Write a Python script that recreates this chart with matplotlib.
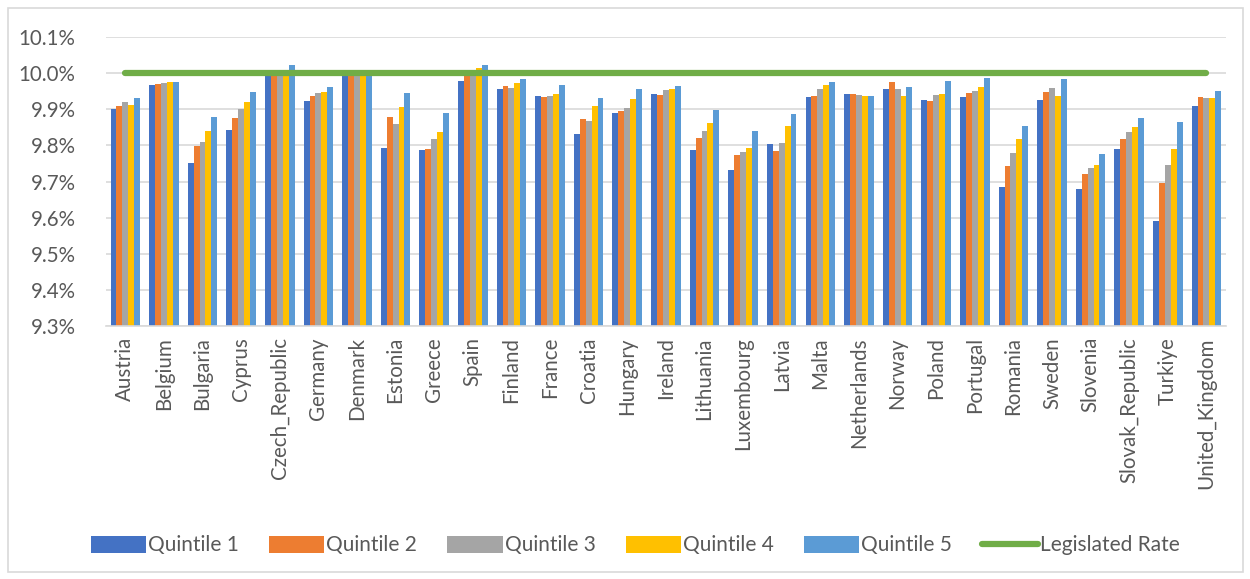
import numpy as np
import matplotlib.pyplot as plt
from matplotlib.patches import Rectangle
from matplotlib.ticker import FuncFormatter

plt.rcParams['font.family'] = ['Lato', 'DejaVu Sans']

countries = ['Austria', 'Belgium', 'Bulgaria', 'Cyprus', 'Czech_Republic', 'Germany',
             'Denmark', 'Estonia', 'Greece', 'Spain', 'Finland', 'France', 'Croatia',
             'Hungary', 'Ireland', 'Lithuania', 'Luxembourg', 'Latvia', 'Malta',
             'Netherlands', 'Norway', 'Poland', 'Portugal', 'Romania', 'Sweden',
             'Slovenia', 'Slovak_Republic', 'Turkiye', 'United_Kingdom']

# effective rates (%) by income quintile
q1 = [9.901, 9.966, 9.751, 9.843, 9.995, 9.924, 9.998, 9.793, 9.786, 9.977,
      9.956, 9.937, 9.832, 9.889, 9.943, 9.788, 9.733, 9.805, 9.934, 9.943,
      9.956, 9.925, 9.934, 9.684, 9.927, 9.679, 9.791, 9.591, 9.910]
q2 = [9.910, 9.971, 9.797, 9.876, 9.998, 9.937, 9.998, 9.879, 9.791, 9.995,
      9.965, 9.935, 9.873, 9.896, 9.940, 9.821, 9.773, 9.785, 9.938, 9.941,
      9.976, 9.924, 9.944, 9.742, 9.947, 9.720, 9.818, 9.696, 9.934]
q3 = [9.921, 9.973, 9.810, 9.901, 10.000, 9.946, 9.999, 9.860, 9.817, 10.000,
      9.960, 9.937, 9.868, 9.904, 9.953, 9.841, 9.781, 9.807, 9.957, 9.940,
      9.956, 9.940, 9.951, 9.780, 9.959, 9.738, 9.836, 9.745, 9.932]
q4 = [9.913, 9.975, 9.840, 9.921, 10.010, 9.949, 9.998, 9.906, 9.836, 10.014,
      9.972, 9.942, 9.910, 9.928, 9.957, 9.863, 9.794, 9.853, 9.967, 9.936,
      9.936, 9.943, 9.962, 9.818, 9.937, 9.745, 9.850, 9.789, 9.930]
q5 = [9.932, 9.975, 9.879, 9.947, 10.022, 9.962, 9.999, 9.945, 9.890, 10.024,
      9.984, 9.967, 9.931, 9.956, 9.965, 9.899, 9.841, 9.888, 9.976, 9.937,
      9.962, 9.979, 9.988, 9.854, 9.985, 9.776, 9.877, 9.865, 9.950]
legislated = [10.0] * len(countries)

series = [q1, q2, q3, q4, q5]
labels = ['Quintile 1', 'Quintile 2', 'Quintile 3', 'Quintile 4', 'Quintile 5']
colors = ['#4472C4', '#ED7D31', '#A5A5A5', '#FFC000', '#5B9BD5']

fig = plt.figure(figsize=(12.5, 5.79), dpi=100)
ax = fig.add_axes([0.0848, 0.437, 0.8958, 0.499])

x = np.arange(len(countries))
base = 9.3
w = 0.153
handles = []
for i, (vals, lab, col) in enumerate(zip(series, labels, colors)):
    v = np.array(vals)
    b = ax.bar(x + (i - 2) * w, v - base, w, bottom=base, color=col, label=lab, zorder=2)
    handles.append(b)

line, = ax.plot(x, legislated, color='#70AD47', lw=4.5, solid_capstyle='round',
                label='Legislated Rate', zorder=3)
handles.append(line)

ax.set_xlim(-0.5, len(countries) - 0.5)
ax.set_ylim(9.3, 10.1)
ax.set_yticks(np.arange(9.3, 10.11, 0.1))
ax.yaxis.set_major_formatter(FuncFormatter(lambda v, p: f'{v:.1f}%'))
ax.set_xticks(x)
ax.set_xticklabels(countries, rotation=90)
ax.tick_params(axis='both', length=0, colors='#595959', labelsize=14.8)
ax.tick_params(axis='y', pad=22)
ax.tick_params(axis='x', pad=8)
ax.grid(axis='y', color='#D9D9D9', lw=1.2, zorder=0)
for s in ['top', 'right', 'left']:
    ax.spines[s].set_visible(False)
ax.spines['bottom'].set_color('#D9D9D9')
ax.spines['bottom'].set_linewidth(1.2)

leg = fig.legend(handles, labels + ['Legislated Rate'], loc='center',
                 bbox_to_anchor=(0.508, 0.058), ncol=6, frameon=False,
                 fontsize=15, handlelength=2.65, handleheight=0.9, handletextpad=0.1,
                 columnspacing=1.45)
for t in leg.get_texts():
    t.set_color('#595959')

# chart border
fig.patches.append(Rectangle((0.006, 0.012), 0.988, 0.974, transform=fig.transFigure,
                             fill=False, edgecolor='#D9D9D9', lw=1.2))

fig.savefig('out.png', dpi=100)
